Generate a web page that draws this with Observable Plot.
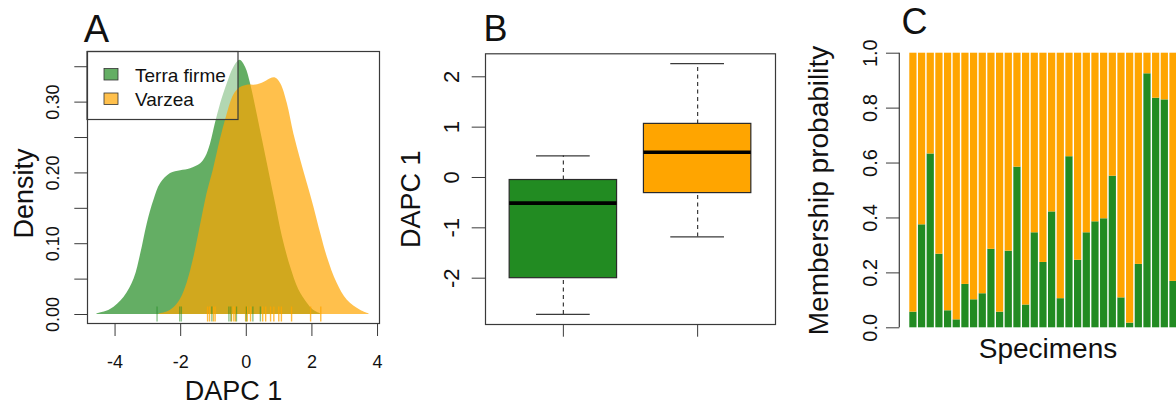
<!DOCTYPE html>
<html><head><meta charset="utf-8">
<script src="https://cdn.jsdelivr.net/npm/d3@7"></script>
<script src="https://cdn.jsdelivr.net/npm/@observablehq/plot@0.6"></script>
<style>
html,body{margin:0;padding:0;background:#fff;overflow:hidden;}
#wrap{position:relative;width:1176px;height:405px;overflow:hidden;}
#wrap svg{position:absolute;top:0;}
</style></head><body><div id="wrap"></div>
<script>
// ---------- data ----------
const groups = ["Terra firme", "Varzea"];
const groupColors = ["#228B22", "#FFA500"];

// Panel A: kernel density curves
const terraX = [-4.55,-4.14,-3.73,-3.42,-3.22,-3.02,-2.81,-2.61,-2.31,-2.0,-1.7,-1.39,-1.24,-1.09,-0.94,-0.78,-0.58,-0.38,-0.19,-0.02,0.13,0.3,0.5,0.7,0.9,1.1,1.35,1.6,1.86,2.05,2.26];
const terraY = [0.001,0.007,0.024,0.05,0.085,0.128,0.162,0.185,0.199,0.203,0.206,0.213,0.222,0.241,0.27,0.298,0.326,0.349,0.359,0.349,0.326,0.29,0.245,0.2,0.155,0.11,0.067,0.035,0.016,0.006,0.001];
const varzeaX = [-2.65,-2.4,-2.2,-2.0,-1.8,-1.6,-1.4,-1.2,-1.0,-0.8,-0.6,-0.38,-0.2,0.03,0.25,0.44,0.62,0.74,0.89,1.05,1.25,1.45,1.66,1.86,2.06,2.27,2.47,2.77,3.08,3.48,3.74];
const varzeaY = [0.001,0.004,0.01,0.022,0.045,0.08,0.125,0.17,0.205,0.245,0.28,0.31,0.32,0.324,0.324,0.326,0.33,0.333,0.334,0.326,0.298,0.255,0.218,0.185,0.152,0.114,0.081,0.044,0.02,0.006,0.001];
const terraRug = [-2.72,-2.03,-1.98,-1.05,-0.53,-0.47,-0.3,0.0,0.2,0.43];
const varzeaRug = [-1.18,-1.12,-1.0,-0.95,-0.45,-0.38,-0.33,-0.02,0.03,0.13,0.5,0.59,0.74,0.84,0.99,1.07,1.38,1.96,2.27];
const densTicks = [0,0.05,0.1,0.15,0.2,0.25,0.3,0.35];
const densLabels = [0,0.1,0.2,0.3];
const dapcTicksA = [-4,-2,0,2,4];

// Panel B: boxplot statistics
const boxMin = [-2.72,-1.18];
const boxQ1  = [-2.0,-0.31];
const boxMed = [-0.51,0.50];
const boxQ3  = [-0.05,1.065];
const boxMax = [0.43,2.26];
const dapcTicksB = [-2,-1,0,1,2];

// Panel C: membership probability of Terra firme per specimen
const terraProb = [0.057,0.375,0.633,0.268,0.062,0.029,0.158,0.102,0.124,0.286,0.057,0.279,0.585,0.083,0.346,0.238,0.422,0.106,0.623,0.246,0.346,0.386,0.397,0.552,0.109,0.017,0.231,0.925,0.836,0.830,0.169];
const probTicks = [0,0.2,0.4,0.6,0.8,1.0];

// ---------- helpers ----------
const FONT = "'Liberation Sans', Arial, Helvetica, sans-serif";
const AXIS = "#3a3a3a";
const wrap = document.getElementById("wrap");
function place(svg, left) { svg.style.left = left + "px"; wrap.appendChild(svg); }
const minus = d => String(d).replace("\u2212", "-");

// ---------- Panel A ----------
const terraDens = terraX.map((x, i) => ({x, y: terraY[i]}));
const varzeaDens = varzeaX.map((x, i) => ({x, y: varzeaY[i]}));
const LEG_W = 151, LEG_H = 68;
const legendBg = (index, scales, values, dims) =>
  d3.create("svg:rect").attr("x", dims.marginLeft).attr("y", dims.marginTop)
    .attr("width", LEG_W).attr("height", LEG_H).attr("fill", "#fff").attr("fill-opacity", 0.5).node();
const legendFg = (index, scales, values, dims) => {
  const g = d3.create("svg:g").attr("font-family", FONT).attr("font-size", 19).attr("text-anchor", "start");
  const x0 = dims.marginLeft, y0 = dims.marginTop;
  g.append("rect").attr("x", x0).attr("y", y0 + 0.5).attr("width", LEG_W).attr("height", LEG_H)
    .attr("fill", "none").attr("stroke", AXIS).attr("stroke-width", 1.2);
  groups.forEach((name, i) => {
    g.append("rect").attr("x", x0 + 17).attr("y", y0 + 17.5 + i * 24.5).attr("width", 14).attr("height", 11.5)
      .attr("fill", groupColors[i]).attr("fill-opacity", 0.7).attr("stroke", "#333").attr("stroke-width", 0.8);
    g.append("text").attr("x", x0 + 48).attr("y", y0 + 30.5 + i * 24.5).attr("fill", "#111")
      .attr("text-anchor", "start").text(name);
  });
  return g.node();
};

const plotA = Plot.plot({
  width: 400, height: 405,
  marginLeft: 87, marginRight: 21, marginTop: 51, marginBottom: 82,
  x: {domain: [-4.84, 4.06]},
  y: {domain: [-0.0127, 0.3715]},
  style: {fontFamily: FONT, background: "transparent", overflow: "visible", color: "#111"},
  marks: [
    Plot.areaY(terraDens, {x: "x", y: "y", fill: groupColors[0], fillOpacity: 0.7, curve: "catmull-rom"}),
    legendBg,
    Plot.areaY(varzeaDens, {x: "x", y: "y", fill: groupColors[1], fillOpacity: 0.7, curve: "catmull-rom"}),
    Plot.ruleX(varzeaRug, {x: d => d, y1: 0, y2: 0, insetTop: -7.5, insetBottom: -7.5, stroke: groupColors[1], strokeOpacity: 0.75, strokeWidth: 1.4}),
    Plot.ruleX(terraRug, {x: d => d, y1: 0, y2: 0, insetTop: -7.5, insetBottom: -7.5, stroke: groupColors[0], strokeOpacity: 0.5, strokeWidth: 1.4}),
    Plot.frame({stroke: AXIS, strokeWidth: 1.2}),
    Plot.axisY(densTicks, {anchor: "left", label: null, tickSize: 12.7, tickFormat: () => "", stroke: AXIS}),
    Plot.axisY(densLabels, {anchor: "left", label: null, tickSize: 0, tickPadding: 28.3, tickRotate: -90, tickFormat: d3.format(".2f"), fontSize: 18}),
    Plot.axisX(dapcTicksA, {anchor: "bottom", label: null, tickSize: 13, tickPadding: 18.7, tickFormat: minus, fontSize: 18, stroke: AXIS}),
    Plot.text(["DAPC 1"], {frameAnchor: "bottom", text: d => d, lineAnchor: "top", dy: 57.5, fontSize: 27}),
    Plot.text(["Density"], {frameAnchor: "left", text: d => d, rotate: -90, lineAnchor: "bottom", textAnchor: "middle", dx: -55, dy: 6, fontSize: 27}),
    Plot.text(["A"], {frameAnchor: "top-left", text: d => d, textAnchor: "start", lineAnchor: "bottom", dx: -3.7, dy: -9.3, fontSize: 38}),
    legendFg
  ]
});
place(plotA, 0);

// ---------- Panel B ----------
const stats = groups.map((g, i) => ({g, pos: i + 1, min: boxMin[i], q1: boxQ1[i], med: boxMed[i], q3: boxQ3[i], max: boxMax[i], color: groupColors[i]}));
const plotB = Plot.plot({
  width: 400, height: 405,
  marginLeft: 85, marginRight: 25, marginTop: 53.3, marginBottom: 81,
  x: {domain: [0.42, 2.58]},
  y: {domain: [-2.92, 2.457]},
  color: {type: "identity"},
  style: {fontFamily: FONT, background: "transparent", overflow: "visible", color: "#111"},
  marks: [
    Plot.ruleX(stats, {x: "pos", y1: "q3", y2: "max", stroke: AXIS, strokeDasharray: "4,3.5", strokeWidth: 1.2}),
    Plot.ruleX(stats, {x: "pos", y1: "min", y2: "q1", stroke: AXIS, strokeDasharray: "4,3.5", strokeWidth: 1.2}),
    Plot.ruleY(stats, {y: "max", x1: d => d.pos - 0.2, x2: d => d.pos + 0.2, stroke: AXIS, strokeWidth: 1.2}),
    Plot.ruleY(stats, {y: "min", x1: d => d.pos - 0.2, x2: d => d.pos + 0.2, stroke: AXIS, strokeWidth: 1.2}),
    Plot.rect(stats, {x1: d => d.pos - 0.4, x2: d => d.pos + 0.4, y1: "q1", y2: "q3", fill: "color", stroke: "#2a2a2a", strokeWidth: 1.2}),
    Plot.ruleY(stats, {y: "med", x1: d => d.pos - 0.4, x2: d => d.pos + 0.4, stroke: "#000", strokeWidth: 3.6}),
    Plot.frame({stroke: AXIS, strokeWidth: 1.2}),
    Plot.axisY(dapcTicksB, {anchor: "left", label: null, tickSize: 13.3, tickPadding: 13.5, tickRotate: -90, tickFormat: minus, fontSize: 22, stroke: AXIS}),
    Plot.axisX([1, 2], {anchor: "bottom", label: null, tickSize: 12.7, tickFormat: () => "", stroke: AXIS}),
    Plot.text(["DAPC 1"], {frameAnchor: "left", text: d => d, rotate: -90, lineAnchor: "bottom", textAnchor: "middle", dx: -65.7, dy: 10, fontSize: 27}),
    Plot.text(["B"], {frameAnchor: "top-left", text: d => d, textAnchor: "start", lineAnchor: "bottom", dx: -2, dy: -12.5, fontSize: 36})
  ]
});
place(plotB, 400);

// ---------- Panel C ----------
const specimens = terraProb.map((p, i) => i);
const memberRows = terraProb.flatMap((p, i) => [
  {s: i, v: p, color: groupColors[0]},
  {s: i, v: 1 - p, color: groupColors[1]}
]);
const axisLineC = (index, {y}, values, dims) =>
  d3.create("svg:line").attr("x1", dims.marginLeft).attr("x2", dims.marginLeft)
    .attr("y1", y(0)).attr("y2", y(1)).attr("stroke", AXIS).attr("stroke-width", 1.2).node();
const plotC = Plot.plot({
  width: 409, height: 405,
  marginLeft: 119.3, marginRight: 2.4, marginTop: 52.7, marginBottom: 77.7,
  x: {type: "band", domain: specimens, paddingInner: 0.167, paddingOuter: 1.153, round: false, axis: null},
  y: {domain: [0, 1]},
  color: {type: "identity"},
  style: {fontFamily: FONT, background: "transparent", overflow: "visible", color: "#111"},
  marks: [
    Plot.barY(memberRows, {x: "s", y: "v", fill: "color"}),
    axisLineC,
    Plot.axisY(probTicks, {anchor: "left", label: null, tickSize: 13.3, tickPadding: 10, tickRotate: -90, tickFormat: d3.format(".1f"), fontSize: 20, stroke: AXIS}),
    Plot.text(["Membership probability"], {frameAnchor: "left", text: d => d, rotate: -90, lineAnchor: "bottom", textAnchor: "middle", dx: -71.7, dy: 0, fontSize: 28}),
    Plot.text(["Specimens"], {frameAnchor: "bottom", text: d => d, lineAnchor: "bottom", dx: 4.5, dy: 30, fontSize: 28}),
    Plot.text(["C"], {frameAnchor: "top-left", text: d => d, textAnchor: "start", lineAnchor: "bottom", dx: 1.7, dy: -19, fontSize: 36})
  ]
});
place(plotC, 780);
</script></body></html>
